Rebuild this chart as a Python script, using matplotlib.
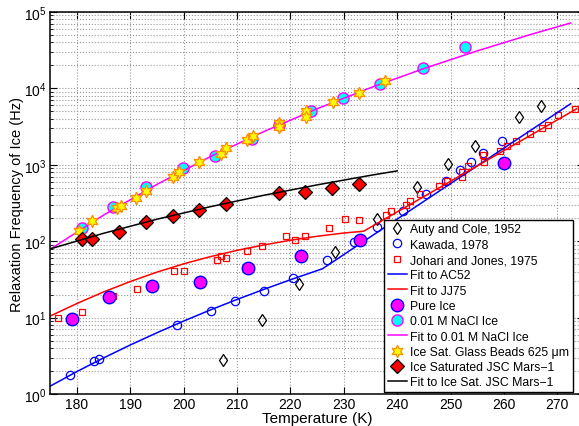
import numpy as np
import matplotlib
matplotlib.use("Agg")
import matplotlib.pyplot as plt

plt.rcParams['font.family'] = ['Liberation Sans', 'DejaVu Sans']
plt.rcParams['mathtext.fontset'] = 'custom'
plt.rcParams['mathtext.rm'] = 'Liberation Sans'

# Auty and Cole, 1952
ac_T = [207.4, 214.6, 221.6, 228.3, 236.2, 243.7, 249.6, 254.5, 262.8, 266.9]
ac_f = [2.8, 9.3, 27.5, 72, 195, 510, 1020, 1780, 4230, 5890]

# Kawada, 1978
kw_T = [178.7, 183.1, 184.2, 198.7, 205.1, 209.6, 215.1, 220.5, 226.9, 231.9,
        236.3, 241.1, 245.4, 249.1, 251.7, 253.8, 256.0, 259.6]
kw_f = [1.77, 2.7, 2.87, 8.0, 12.2, 16.5, 22.4, 33, 57, 98,
        155, 250, 415, 615, 855, 1090, 1420, 2050]

# Johari and Jones, 1975
jj_T = [176.5, 180.9, 186.8, 191.2, 198.2, 200.1, 206.2, 207.0, 207.9, 211.8,
        214.6, 219.1, 220.8, 222.7, 227.2, 230.2, 232.8, 237.9, 238.8, 241.6,
        242.4, 244.3, 247.8, 249.3, 252.1, 252.2, 253.2, 256.1, 256.3, 259.2,
        260.6, 262.2, 264.8, 267.1, 268.3, 270.2, 273.4]
jj_f = [9.8, 11.8, 19, 23.6, 41, 41, 57, 64, 60, 74,
        87, 117, 104, 117, 149, 195, 190, 220, 250, 297,
        335, 415, 530, 615, 690, 800, 960, 1340, 1090, 1510,
        1780, 2050, 2510, 3020, 3310, 4470, 5370]

# fit to AC52
fit_ac_T = [175, 180, 185, 190, 195, 200, 205, 210, 215, 220, 226, 272.5]
fit_ac_f = [1.27, 1.97, 2.97, 4.39, 6.34, 9.02, 12.6, 17.3, 23.4, 31.3, 43.6, 6300]

# fit to JJ75
fit_jj_T = [175, 180, 185, 190, 195, 200, 205, 210, 215, 220, 225, 230, 233.7, 273.6]
fit_jj_f = [10.5, 15.3, 21.7, 29.7, 39.4, 50.6, 62.8, 75.9, 89.3, 103, 116, 128, 135, 5400]

# pure ice
pure_T = [179, 186, 194, 203, 212, 222, 233, 260]
pure_f = [9.6, 18.6, 26, 29, 45, 64, 104, 1050]

# 0.01 M NaCl ice
nacl_T = [181, 186.7, 192.9, 199.8, 205.9, 212.8, 217.9, 223.8, 229.8, 236.7, 244.8, 252.7]
nacl_f = [148, 280, 510, 910, 1290, 2190, 3310, 5050, 7450, 11500, 18500, 35000]

# fit to NaCl ice
fit_nacl_T = [175, 185, 195, 205, 215, 225, 235, 245, 255, 265, 272.5]
fit_nacl_f = [78.7, 220, 555, 1280, 2720, 5420, 10200, 18200, 31000, 50800, 71800]

# ice saturated glass beads 625 um
gb_T = [180.4, 182.8, 187.5, 188.3, 191.1, 192.9, 198.0, 199.1, 202.9, 207.0,
        208.0, 211.9, 213.0, 217.9, 217.9, 222.9, 222.9, 227.9, 232.8, 237.8]
gb_f = [135, 183, 270, 290, 370, 455, 690, 800, 1090, 1380,
        1660, 2100, 2390, 3530, 3100, 5050, 4230, 6600, 8700, 12600]

# ice saturated JSC Mars-1
jsc_T = [181, 182.8, 187.9, 192.9, 198, 202.9, 208, 217.9, 222.7, 227.8, 232.8]
jsc_f = [107, 107, 132, 178, 214, 257, 309, 427, 440, 500, 560]

# fit to JSC Mars-1
fit_jsc_T = [175, 185, 195, 205, 215, 225, 235, 240]
fit_jsc_f = [79.4, 127, 194, 283, 399, 546, 728, 832]

fig = plt.figure(figsize=(5.79, 4.27), dpi=100)
ax = fig.add_axes([50.3 / 579, 32 / 427, (584 - 50.3) / 579, 382 / 427])

ax.semilogy(ac_T, ac_f, 'd', mfc='none', mec='k', ms=6, mew=0.9, label='Auty and Cole, 1952')
ax.semilogy(kw_T, kw_f, 'o', mfc='none', mec='b', ms=6, mew=0.9, label='Kawada, 1978')
ax.semilogy(jj_T, jj_f, 's', mfc='none', mec='r', ms=5, mew=0.9, label='Johari and Jones, 1975')
ax.semilogy(fit_ac_T, fit_ac_f, '-', color='b', lw=1.1, label='Fit to AC52')
ax.semilogy(fit_jj_T, fit_jj_f, '-', color='r', lw=1.1, label='Fit to JJ75')
ax.semilogy(pure_T, pure_f, 'o', mfc='magenta', mec='b', ms=9, mew=1, label='Pure Ice')
ax.semilogy(nacl_T, nacl_f, 'o', mfc='cyan', mec='magenta', ms=8, mew=1, label='0.01 M NaCl Ice')
ax.semilogy(fit_nacl_T, fit_nacl_f, '-', color='magenta', lw=1.1, label='Fit to 0.01 M NaCl Ice')
ax.semilogy(gb_T, gb_f, marker=(6, 1, 0), ls='none', mfc='yellow', mec='darkorange', ms=9, mew=0.9,
            label='Ice Sat. Glass Beads 625 μm')
ax.semilogy(jsc_T, jsc_f, 'D', mfc='red', mec='k', ms=7.5, mew=0.9, label='Ice Saturated JSC Mars\u22121')
ax.semilogy(fit_jsc_T, fit_jsc_f, '-', color='k', lw=1.1, label='Fit to Ice Sat. JSC Mars\u22121')

ax.set_xlim(175, 275)
ax.set_ylim(1, 1e5)
ax.set_xticks(range(180, 271, 10))
ax.grid(True, which='major', ls=':', color='0.6', lw=0.8)
ax.grid(True, which='minor', axis='y', ls=':', color='0.6', lw=0.8)
ax.tick_params(which='both', direction='in', top=True, right=True, labelsize=10, pad=2.5)
ax.tick_params(which='major', length=5, width=0.8)
ax.tick_params(which='minor', length=2.5, width=0.6)
for s in ax.spines.values():
    s.set_linewidth(1.1)

ax.set_xlabel('Temperature (K)', fontsize=11, labelpad=0)
ax.set_ylabel('Relaxation Frequency of Ice (Hz)', fontsize=10.5, labelpad=0)

leg = ax.legend(loc='lower right', bbox_to_anchor=((573 - 50.3) / (584 - 50.3), 0.005),
                borderaxespad=0, fontsize=8.8, fancybox=False, framealpha=1, edgecolor='k',
                labelspacing=0.27, handlelength=1.6, handletextpad=0.25, borderpad=0.3)
leg.get_frame().set_linewidth(1.0)

# descenders of the cropped caption line above the figure
for x, ch in [(68, 'p'), (182, 'p'), (500, 'p'), (557, 'y')]:
    fig.text(x / 579, 1.0 + 5 / 427, ch, ha='center', va='baseline', fontsize=16,
             family='Liberation Serif')

fig.savefig('out.png', dpi=100)
